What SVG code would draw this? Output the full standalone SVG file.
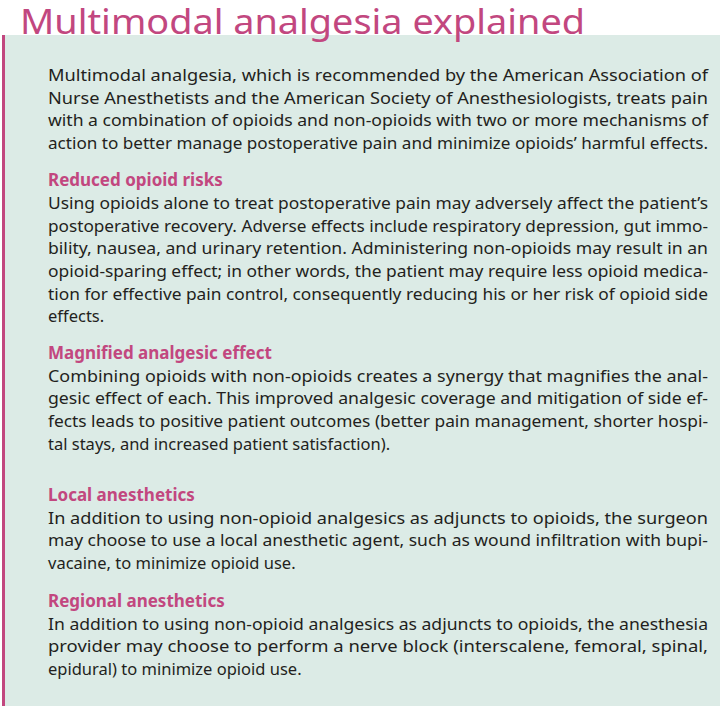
<svg xmlns="http://www.w3.org/2000/svg" width="720" height="706" viewBox="0 0 720 706">
<style>
.t{font-family:"Noto Sans","Open Sans",sans-serif;font-size:16.5px;fill:#231f20}
.h{font-family:"Noto Sans","Open Sans",sans-serif;font-size:17px;font-weight:bold;fill:#c2477f}
.ti{font-family:"Noto Sans","Open Sans",sans-serif;font-size:35px;fill:#c2477f}
</style>
<rect width="720" height="706" fill="#ffffff"/>
<rect x="5" y="35" width="715" height="671" fill="#dcebe6"/>
<rect x="2" y="35" width="3" height="671" fill="#c2477f"/>
<text class="ti" x="20" y="34" textLength="565" lengthAdjust="spacingAndGlyphs">Multimodal analgesia explained</text>
<g id="intro">
<text class="t" x="48" y="81" textLength="660" lengthAdjust="spacingAndGlyphs">Multimodal analgesia, which is recommended by the American Association of</text>
<text class="t" x="48" y="104" textLength="660" lengthAdjust="spacingAndGlyphs">Nurse Anesthetists and the American Society of Anesthesiologists, treats pain</text>
<text class="t" x="48" y="126" textLength="660" lengthAdjust="spacingAndGlyphs">with a combination of opioids and non-opioids with two or more mechanisms of</text>
<text class="t" x="48" y="149" textLength="660" lengthAdjust="spacingAndGlyphs">action to better manage postoperative pain and minimize opioids’ harmful effects.</text>
</g>
<g id="reduced">
<text class="h" x="48" y="186">Reduced opioid risks</text>
<text class="t" x="48" y="209" textLength="660" lengthAdjust="spacingAndGlyphs">Using opioids alone to treat postoperative pain may adversely affect the patient’s</text>
<text class="t" x="48" y="232" textLength="660" lengthAdjust="spacingAndGlyphs">postoperative recovery. Adverse effects include respiratory depression, gut immo-</text>
<text class="t" x="48" y="254" textLength="660" lengthAdjust="spacingAndGlyphs">bility, nausea, and urinary retention. Administering non-opioids may result in an</text>
<text class="t" x="48" y="277" textLength="660" lengthAdjust="spacingAndGlyphs">opioid-sparing effect; in other words, the patient may require less opioid medica-</text>
<text class="t" x="48" y="300" textLength="660" lengthAdjust="spacingAndGlyphs">tion for effective pain control, consequently reducing his or her risk of opioid side</text>
<text class="t" x="48" y="322">effects.</text>
</g>
<g id="magnified">
<text class="h" x="48" y="359">Magnified analgesic effect</text>
<text class="t" x="48" y="382" textLength="660" lengthAdjust="spacingAndGlyphs">Combining opioids with non-opioids creates a synergy that magnifies the anal-</text>
<text class="t" x="48" y="404" textLength="660" lengthAdjust="spacingAndGlyphs">gesic effect of each. This improved analgesic coverage and mitigation of side ef-</text>
<text class="t" x="48" y="427" textLength="660" lengthAdjust="spacingAndGlyphs">fects leads to positive patient outcomes (better pain management, shorter hospi-</text>
<text class="t" x="48" y="450">tal stays, and increased patient satisfaction).</text>
</g>
<g id="local">
<text class="h" x="48" y="501">Local anesthetics</text>
<text class="t" x="48" y="524" textLength="660" lengthAdjust="spacingAndGlyphs">In addition to using non-opioid analgesics as adjuncts to opioids, the surgeon</text>
<text class="t" x="48" y="546" textLength="660" lengthAdjust="spacingAndGlyphs">may choose to use a local anesthetic agent, such as wound infiltration with bupi-</text>
<text class="t" x="48" y="569">vacaine, to minimize opioid use.</text>
</g>
<g id="regional">
<text class="h" x="48" y="607">Regional anesthetics</text>
<text class="t" x="48" y="630" textLength="660" lengthAdjust="spacingAndGlyphs">In addition to using non-opioid analgesics as adjuncts to opioids, the anesthesia</text>
<text class="t" x="48" y="652" textLength="660" lengthAdjust="spacingAndGlyphs">provider may choose to perform a nerve block (interscalene, femoral, spinal,</text>
<text class="t" x="48" y="675">epidural) to minimize opioid use.</text>
</g>
</svg>
